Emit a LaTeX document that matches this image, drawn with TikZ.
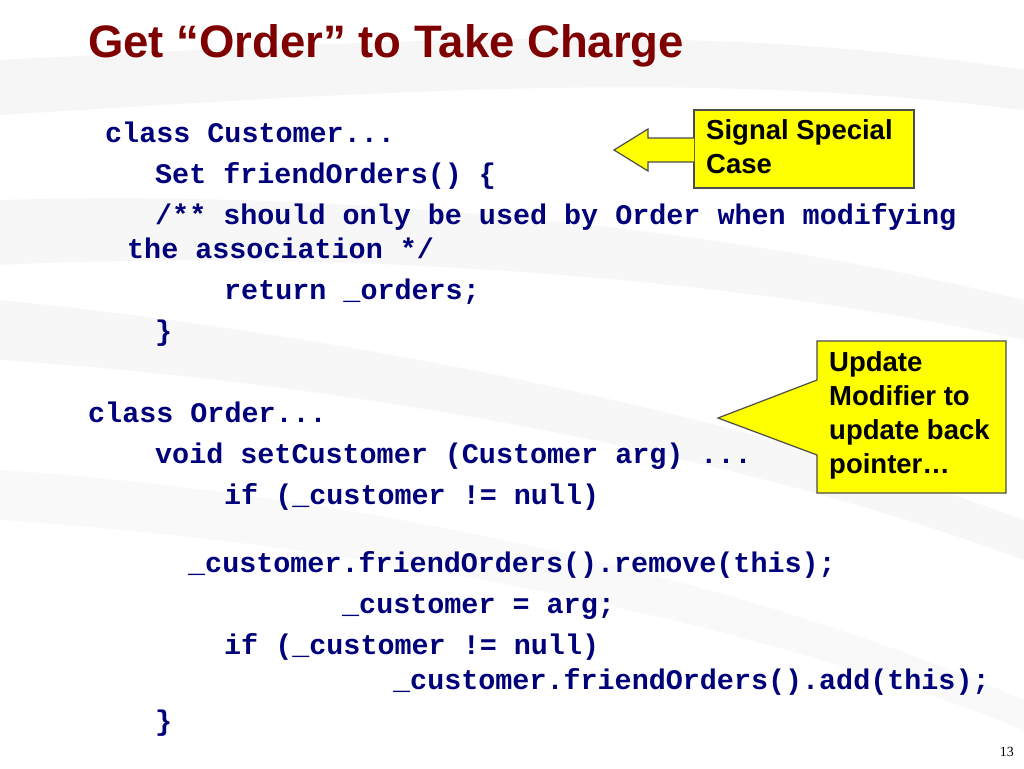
\documentclass[tikz,border=0pt]{standalone}
\usepackage{fontspec}
\setmainfont{Liberation Sans}
\newfontfamily\codefont{Liberation Mono}
\newfontfamily\pnfont{Liberation Serif}
\definecolor{codeblue}{HTML}{00007A}
\definecolor{titlered}{HTML}{7F0000}
\definecolor{callyellow}{HTML}{FFFF00}
\begin{document}
\begin{tikzpicture}[x=1pt,y=-1pt,
  code/.style={anchor=base west,inner sep=0pt,font=\codefont\bfseries\fontsize{28.4}{30}\selectfont,text=codeblue},
  callout/.style={fill=callyellow,draw=black!70,line width=1.2pt},
  calltext/.style={anchor=north west,inner sep=0pt,align=left,font=\bfseries\fontsize{27.5}{34}\selectfont}]
\useasboundingbox (0,0) rectangle (1024,768);
\fill[white] (0,0) rectangle (1024,768);
% background swooshes
\fill[black!3.5] (0,60) .. controls (400,40) and (700,20) .. (1024,70) -- (1024,110) .. controls (700,70) and (400,90) .. (0,115) -- cycle;
\fill[black!3] (0,200) .. controls (300,190) and (700,220) .. (1024,300) -- (1024,340) .. controls (700,270) and (300,250) .. (0,265) -- cycle;
\fill[black!3] (0,300) .. controls (300,330) and (700,400) .. (1024,520) -- (1024,560) .. controls (700,440) and (300,380) .. (0,360) -- cycle;
\fill[black!2.5] (0,470) .. controls (300,490) and (700,560) .. (1024,700) -- (1024,730) .. controls (700,600) and (300,540) .. (0,520) -- cycle;
% title
\node[anchor=base west,inner sep=0pt,text=titlered,font=\bfseries\fontsize{45.5}{48}\selectfont] (title) at (88,57) {Get “Order” to Take Charge};
% code
\node[code] (l1) at (105,142) {class Customer...};
\node[code] (l2) at (155,183) {Set friendOrders() \{};
\node[code] (l3) at (155,224) {/** should only be used by Order when modifying};
\node[code] (l4) at (127,258) {the association */};
\node[code] (l5) at (224,299) {return \_orders;};
\node[code] (l6) at (155,340) {\}};
\node[code] (l7) at (88,422) {class Order...};
\node[code] (l8) at (155,463) {void setCustomer (Customer arg) ...};
\node[code] (l9) at (224,504) {if (\_customer != null)};
\node[code] (l10) at (188,572) {\_customer.friendOrders().remove(this);};
\node[code] (l11) at (342,613) {\_customer = arg;};
\node[code] (l12) at (224,654) {if (\_customer != null)};
\node[code] (l13) at (393,689) {\_customer.friendOrders().add(this);};
\node[code] (l14) at (155,730) {\}};
% callout 1
\draw[callout] (694,110) rectangle (914,188);
\draw[callout] (694,138) -- (648,138) -- (648,129) -- (614,150) -- (648,171) -- (648,162) -- (694,162);
\node[calltext] (c1) at (706,119) {Signal Special\\Case};
% callout 2
\draw[callout] (817,341) -- (1006,341) -- (1006,493) -- (817,493) -- (817,455) -- (718,418) -- (817,380) -- cycle;
\node[calltext] (c2) at (829,351) {Update\\Modifier to\\update back\\pointer…};
\node[anchor=base east,inner sep=0pt,font=\pnfont\fontsize{14}{16}\selectfont] (pn) at (1014,756) {13};
\end{tikzpicture}
\end{document}
